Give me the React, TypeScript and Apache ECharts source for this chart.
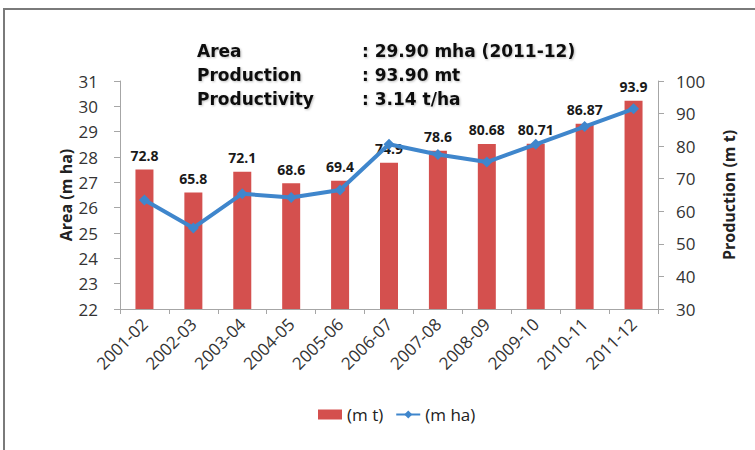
import React, { useEffect, useRef } from "react";
import * as echarts from "echarts";

const categories = [
  "2001-02", "2002-03", "2003-04", "2004-05", "2005-06", "2006-07",
  "2007-08", "2008-09", "2009-10", "2010-11", "2011-12",
];
const productionMt = [72.8, 65.8, 72.1, 68.6, 69.4, 74.9, 78.6, 80.68, 80.71, 86.87, 93.9];
const areaMha = [26.3, 25.2, 26.55, 26.4, 26.7, 28.5, 28.1, 27.8, 28.5, 29.2, 29.9];
const infoLabels = ["Area", "Production", "Productivity"];
const infoValues = [": 29.90 mha (2011-12)", ": 93.90 mt", ": 3.14 t/ha"];

const FONT = '"Open Sans", "Noto Sans", sans-serif';

export default function App() {
  const ref = useRef<HTMLDivElement>(null);
  useEffect(() => {
    document.body.style.margin = "0";
    const chart = echarts.init(ref.current!, null, { renderer: "svg" });
    const infoFont = 'bold 17px "DejaVu Sans", sans-serif';
    const rowsY = [51, 75, 99];
    const graphics: any[] = [
      {
        type: "rect",
        shape: { x: 4, y: 9, width: 800, height: 500 },
        style: { fill: "none", stroke: "#7a7a7a", lineWidth: 2 },
        silent: true,
      },
    ];
    infoLabels.forEach((t, i) => {
      graphics.push({
        type: "text",
        x: 197,
        y: rowsY[i],
        style: {
          text: t,
          font: infoFont,
          fill: "#111",
          verticalAlign: "middle",
          textShadowColor: "rgba(0,0,0,0.25)",
          textShadowBlur: 2,
          textShadowOffsetX: 1,
          textShadowOffsetY: 1,
        },
      });
      graphics.push({
        type: "text",
        x: 362,
        y: rowsY[i],
        style: {
          text: infoValues[i],
          font: infoFont,
          fill: "#111",
          verticalAlign: "middle",
          textShadowColor: "rgba(0,0,0,0.25)",
          textShadowBlur: 2,
          textShadowOffsetX: 1,
          textShadowOffsetY: 1,
        },
      });
    });

    chart.setOption({
      animation: false,
      backgroundColor: "#ffffff",
      textStyle: { fontFamily: FONT },
      grid: { left: 120, right: 97, top: 81, bottom: 141, containLabel: false },
      legend: {
        left: 313,
        top: 401,
        itemWidth: 24,
        itemHeight: 10,
        itemGap: 12,
        textStyle: { fontSize: 17, color: "#222", fontFamily: FONT },
        data: [
          { name: "(m t)", icon: "rect" },
          { name: "(m ha)" },
        ],
      },
      xAxis: {
        type: "category",
        data: categories,
        boundaryGap: true,
        axisLine: { lineStyle: { color: "#a6a6a6", width: 1 } },
        axisTick: { show: true, length: 5, lineStyle: { color: "#a6a6a6" } },
        axisLabel: {
          rotate: 45,
          margin: 12,
          fontSize: 17,
          color: "#333",
          fontFamily: FONT,
          interval: 0,
        },
      },
      yAxis: [
        {
          type: "value",
          min: 22,
          max: 31,
          interval: 1,
          position: "left",
          name: "Area (m ha)",
          nameLocation: "middle",
          nameRotate: 90,
          nameGap: 46,
          nameMoveOverlap: false,
          nameTextStyle: { fontSize: 16, fontWeight: "bold", color: "#222", fontFamily: FONT },
          axisLine: { show: true, lineStyle: { color: "#a6a6a6" } },
          axisTick: { show: true, length: 6, lineStyle: { color: "#a6a6a6" } },
          axisLabel: { fontSize: 17, color: "#333", margin: 22, fontFamily: FONT },
          splitLine: { show: false },
        },
        {
          type: "value",
          min: 30,
          max: 100,
          interval: 10,
          position: "right",
          name: "Production (m t)",
          nameLocation: "middle",
          nameRotate: 90,
          nameGap: 63,
          nameMoveOverlap: false,
          nameTextStyle: { fontSize: 16, fontWeight: "bold", color: "#222", fontFamily: FONT },
          axisLine: { show: true, lineStyle: { color: "#a6a6a6" } },
          axisTick: { show: true, length: 6, lineStyle: { color: "#a6a6a6" } },
          axisLabel: { fontSize: 17, color: "#333", margin: 18, fontFamily: FONT },
          splitLine: { show: false },
        },
      ],
      series: [
        {
          name: "(m t)",
          type: "bar",
          yAxisIndex: 1,
          data: productionMt,
          barWidth: 18,
          itemStyle: { color: "#d4504e" },
          label: {
            show: true,
            position: "top",
            distance: 7,
            fontSize: 14,
            fontWeight: "bold",
            color: "#1a1a1a",
            fontFamily: FONT,
          },
        },
        {
          name: "(m ha)",
          type: "line",
          yAxisIndex: 0,
          data: areaMha,
          symbol: "diamond",
          symbolSize: 11,
          lineStyle: { color: "#3f86cc", width: 4 },
          itemStyle: { color: "#3f86cc" },
          z: 5,
        },
      ],
      graphic: graphics,
    });
    return () => chart.dispose();
  }, []);
  return (
    <div
      ref={ref}
      style={{ position: "absolute", left: 0, top: 0, width: 755, height: 450 }}
    />
  );
}
